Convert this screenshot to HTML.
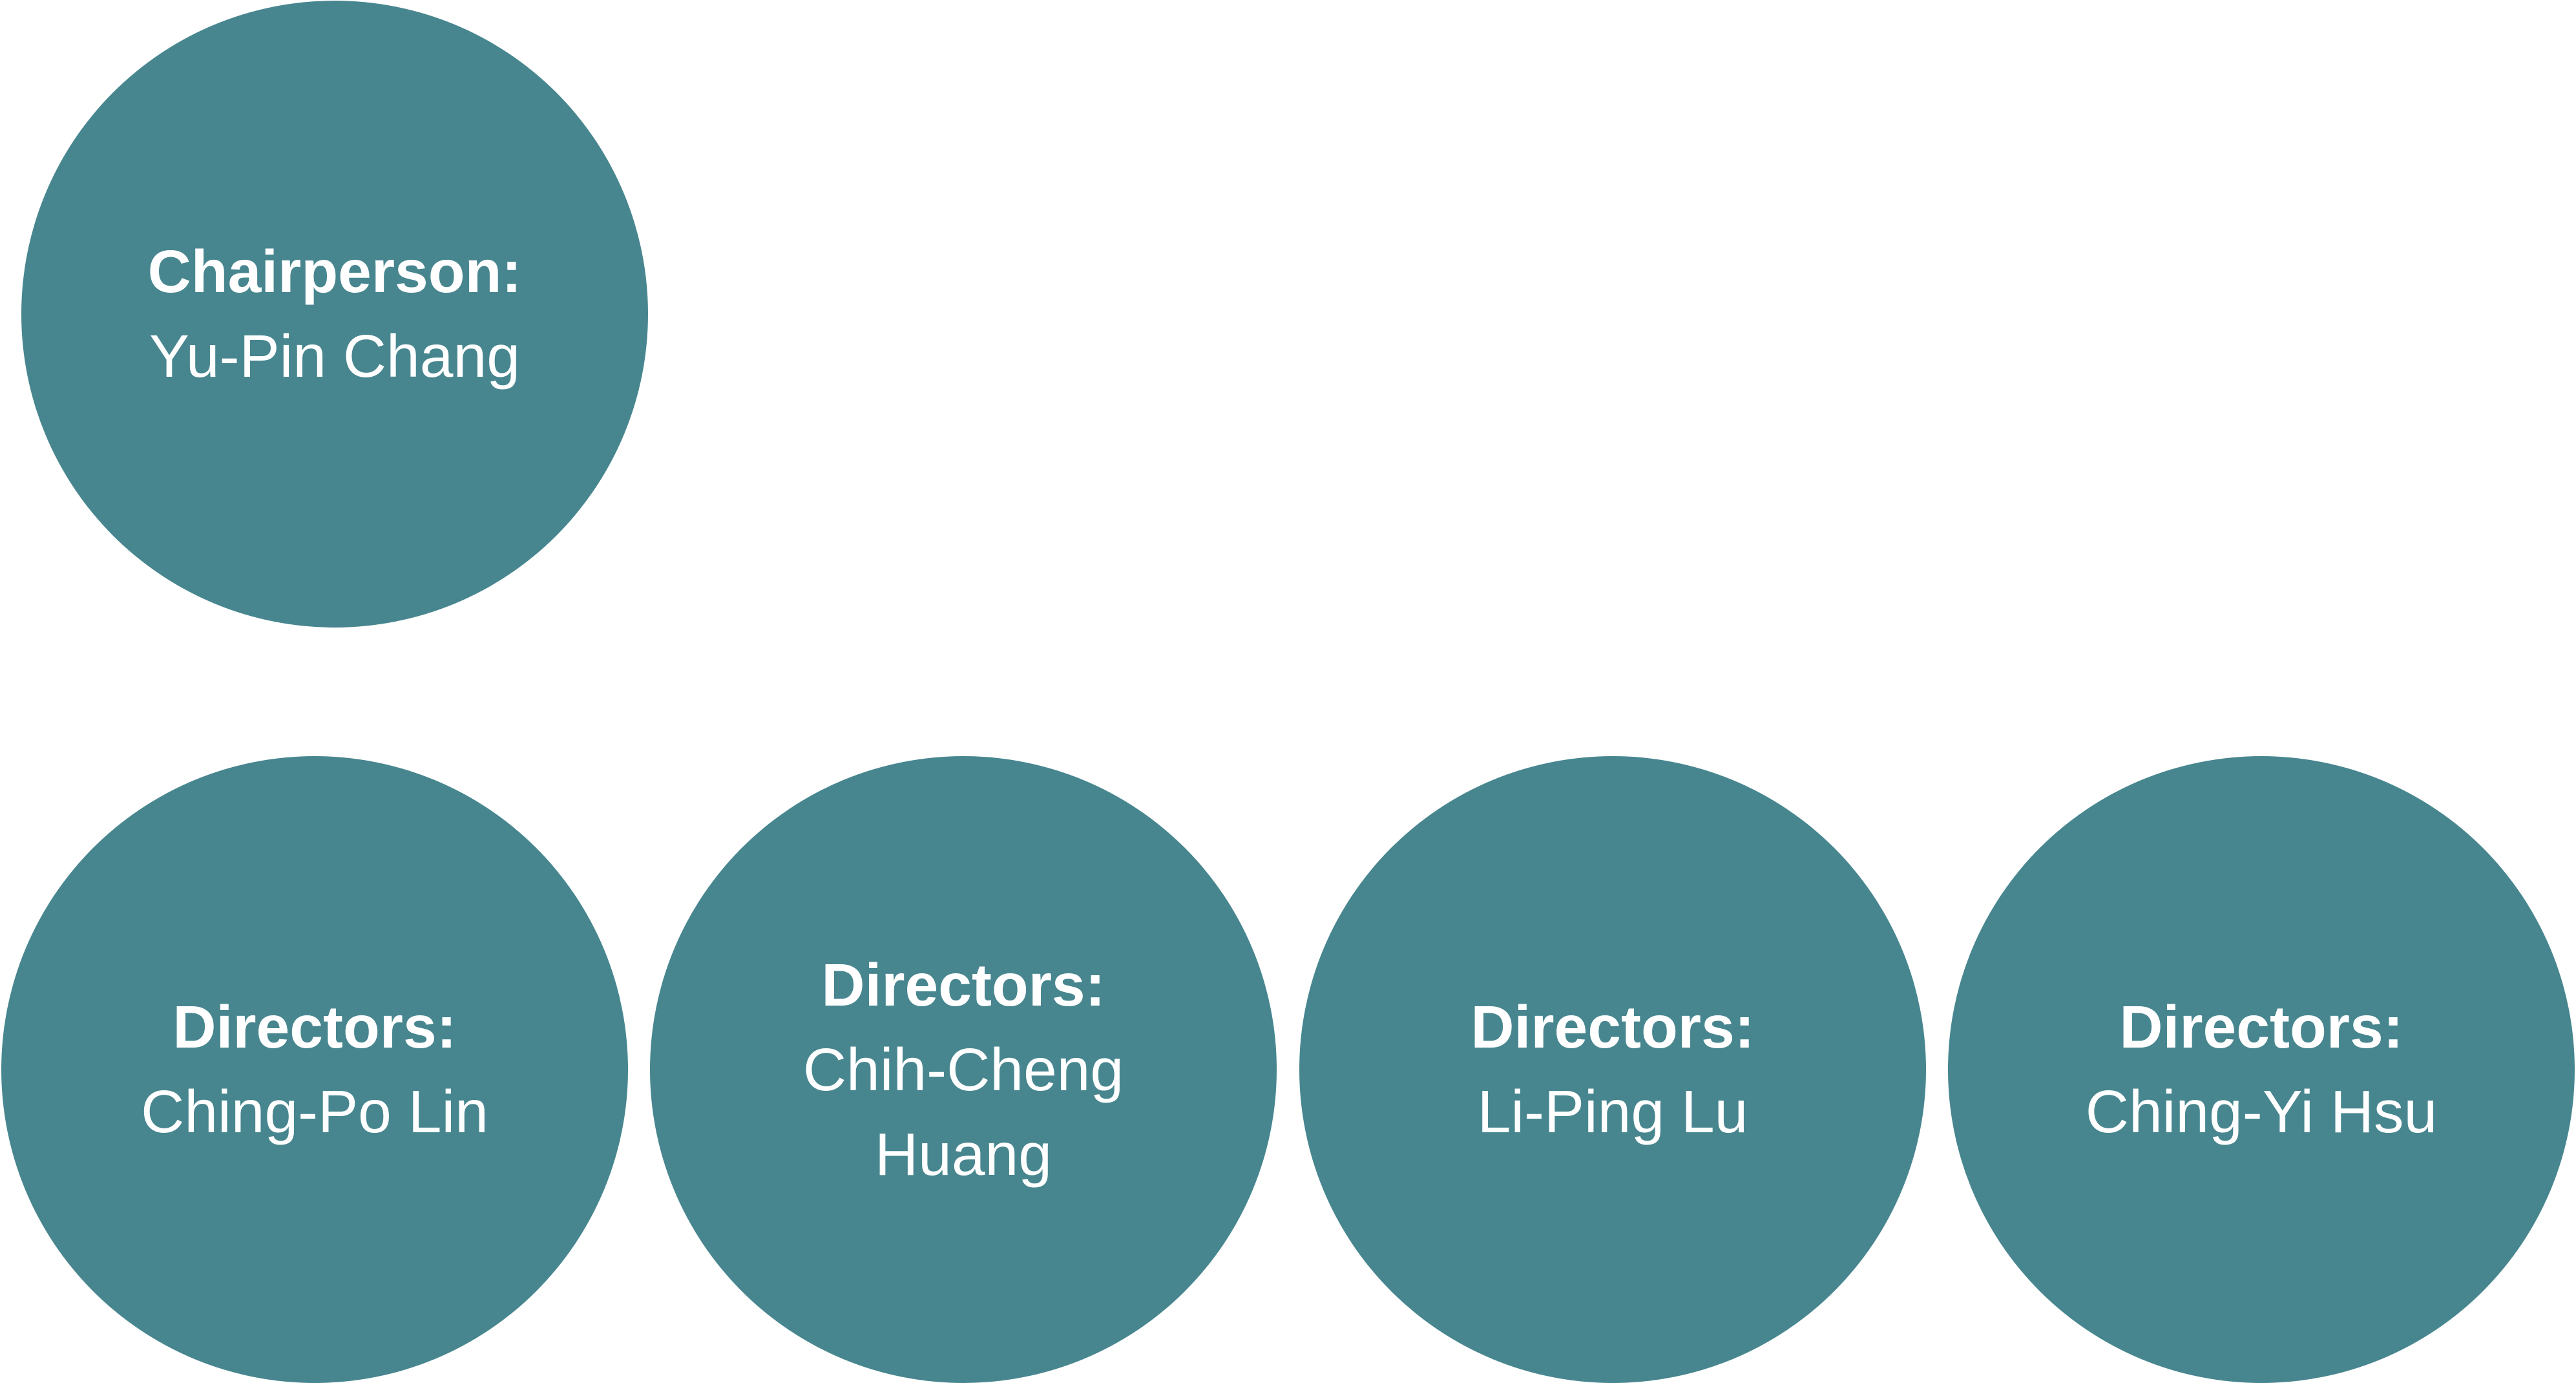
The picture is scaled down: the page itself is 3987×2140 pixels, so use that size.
<!DOCTYPE html>
<html><head><style>
html,body{margin:0;padding:0;background:#fff;}
body{width:3987px;height:2140px;position:relative;overflow:hidden;font-family:"Liberation Sans",sans-serif;}
.c{position:absolute;width:970px;height:970px;border-radius:50%;background:#47868f;display:flex;align-items:center;justify-content:center;text-align:center;color:#fff;font-size:93px;line-height:131px;}
.c b{font-weight:bold;}
</style></head><body>
<div class="c" style="left:33px;top:1px;"><div><b>Chairperson:</b><br>Yu-Pin Chang</div></div>
<div class="c" style="left:2px;top:1170px;"><div><b>Directors:</b><br>Ching-Po Lin</div></div>
<div class="c" style="left:1006px;top:1170px;"><div><b>Directors:</b><br>Chih-Cheng<br>Huang</div></div>
<div class="c" style="left:2011px;top:1170px;"><div><b>Directors:</b><br>Li-Ping Lu</div></div>
<div class="c" style="left:3015px;top:1170px;"><div><b>Directors:</b><br>Ching-Yi Hsu</div></div>
</body></html>
